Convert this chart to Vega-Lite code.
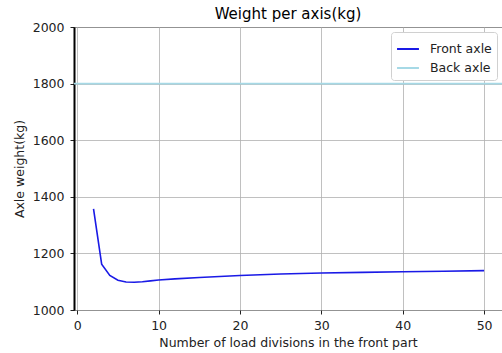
{
  "$schema": "https://vega.github.io/schema/vega-lite/v6.json",
  "autosize": "none",
  "padding": {"left": 74, "top": 27, "right": 0, "bottom": 43},
  "width": 428,
  "height": 283,
  "background": "white",
  "config": {
    "font": "DejaVu Sans",
    "view": {"stroke": "#222", "strokeWidth": 1}
  },
  "title": {"text": "Weight per axis(kg)", "fontSize": 15, "fontWeight": "normal", "font": "DejaVu Sans", "color": "#000", "offset": -1},
  "data": {"values": [
    {"n": 2, "w": 1357, "s": "Front axle"},
    {"n": 3, "w": 1162, "s": "Front axle"},
    {"n": 4, "w": 1122, "s": "Front axle"},
    {"n": 5, "w": 1105, "s": "Front axle"},
    {"n": 6, "w": 1099, "s": "Front axle"},
    {"n": 7, "w": 1098, "s": "Front axle"},
    {"n": 8, "w": 1100, "s": "Front axle"},
    {"n": 9, "w": 1103, "s": "Front axle"},
    {"n": 10, "w": 1106, "s": "Front axle"},
    {"n": 12, "w": 1110, "s": "Front axle"},
    {"n": 15, "w": 1115, "s": "Front axle"},
    {"n": 20, "w": 1122, "s": "Front axle"},
    {"n": 25, "w": 1127, "s": "Front axle"},
    {"n": 30, "w": 1131, "s": "Front axle"},
    {"n": 35, "w": 1133, "s": "Front axle"},
    {"n": 40, "w": 1135, "s": "Front axle"},
    {"n": 45, "w": 1137, "s": "Front axle"},
    {"n": 50, "w": 1139, "s": "Front axle"},
    {"n": -0.4, "w": 1800, "s": "Back axle"},
    {"n": 52.2, "w": 1800, "s": "Back axle"}
  ]},
  "mark": {"type": "line", "strokeWidth": 1.6, "clip": true},
  "encoding": {
    "x": {
      "field": "n", "type": "quantitative",
      "scale": {"domain": [-0.4, 52.2], "nice": false, "zero": false},
      "axis": {
        "title": "Number of load divisions in the front part",
        "values": [0, 10, 20, 30, 40, 50],
        "grid": true, "gridColor": "#b0b0b0", "gridWidth": 0.8,
        "domain": false, "tickColor": "#222", "tickSize": 4,
        "labelFontSize": 12.5, "labelColor": "#222", "labelPadding": 5,
        "titleFontSize": 12.5, "titleFontWeight": "normal", "titleColor": "#222", "titlePadding": 5
      }
    },
    "y": {
      "field": "w", "type": "quantitative",
      "scale": {"domain": [1000, 2000], "nice": false, "zero": false},
      "axis": {
        "title": "Axle weight(kg)", "format": "d",
        "values": [1000, 1200, 1400, 1600, 1800, 2000],
        "grid": true, "gridColor": "#b0b0b0", "gridWidth": 0.8,
        "domain": true, "domainColor": "#000", "domainWidth": 2,
        "tickColor": "#222", "tickSize": 4,
        "labelFontSize": 12.5, "labelColor": "#222", "labelPadding": 6,
        "titleFontSize": 12.5, "titleFontWeight": "normal", "titleColor": "#222", "titlePadding": 6
      }
    },
    "color": {
      "field": "s", "type": "nominal",
      "sort": ["Front axle", "Back axle"],
      "scale": {"domain": ["Front axle", "Back axle"], "range": ["#1a1ae6", "#a6d9e6"]},
      "legend": {
        "title": null, "orient": "top-right", "offset": 5,
        "symbolType": "stroke", "symbolSize": 480, "symbolStrokeWidth": 2,
        "labelFontSize": 12.5, "labelColor": "#222", "labelOffset": 10,
        "fillColor": "white", "strokeColor": "#d0d0d0", "padding": 5, "cornerRadius": 3,
        "rowPadding": 0
      }
    },
    "detail": {"field": "s"}
  }
}
